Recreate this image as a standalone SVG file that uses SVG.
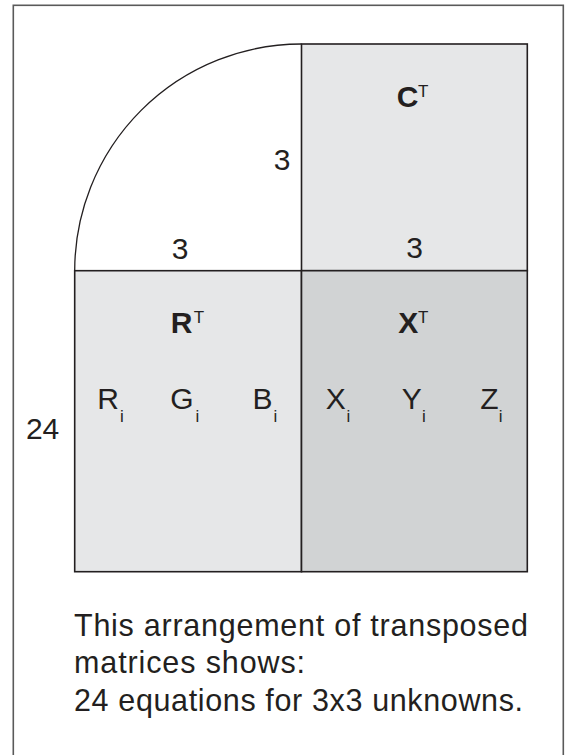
<svg xmlns="http://www.w3.org/2000/svg" width="571" height="755" viewBox="0 0 571 755">
  <style>
    .frame { fill: #ffffff; stroke: #5a5a5a; stroke-width: 1.6; }
    .cell { stroke: #231f20; stroke-width: 1.6; }
    .light { fill: #e6e7e8; }
    .dark { fill: #d1d3d4; }
    .arc { fill: none; stroke: #231f20; stroke-width: 1.3; }
    text { font-family: "Liberation Sans", Arial, Helvetica, sans-serif; fill: #231f20; }
    .lbl { font-size: 30px; }
    .bold { font-size: 30px; font-weight: bold; }
    .sup { font-size: 17px; }
    .sub { font-size: 17px; }
    .cap { font-size: 30.5px; }
  </style>

  <rect class="frame" x="13.3" y="5.3" width="550" height="760"/>

  <g id="quarter-circle">
    <path class="arc" d="M 74.7 270.7 A 226.8 226.7 0 0 1 301.5 44"/>
    <text class="lbl" x="282" y="170" text-anchor="middle">3</text>
    <text class="lbl" x="180" y="259" text-anchor="middle">3</text>
  </g>

  <g id="C-transpose">
    <rect class="cell light" x="301.5" y="44" width="225.8" height="226.7"/>
    <text class="bold" x="407.7" y="106.7" text-anchor="middle">C</text>
    <text class="sup" x="423.3" y="96.7" text-anchor="middle">T</text>
    <text class="lbl" x="414.7" y="258.3" text-anchor="middle">3</text>
  </g>

  <g id="R-transpose">
    <rect class="cell light" x="74.7" y="270.7" width="226.8" height="301"/>
    <text class="bold" x="181.7" y="332.7" text-anchor="middle">R</text>
    <text class="sup" x="199" y="322.7" text-anchor="middle">T</text>
    <text class="lbl" x="108" y="409.3" text-anchor="middle">R</text>
    <text class="sub" x="122" y="421.7" text-anchor="middle">i</text>
    <text class="lbl" x="182" y="409.3" text-anchor="middle">G</text>
    <text class="sub" x="197.5" y="421.7" text-anchor="middle">i</text>
    <text class="lbl" x="262.5" y="409.3" text-anchor="middle">B</text>
    <text class="sub" x="275.5" y="421.7" text-anchor="middle">i</text>
  </g>

  <g id="X-transpose">
    <rect class="cell dark" x="301.5" y="270.7" width="225.8" height="301"/>
    <text class="bold" x="408.3" y="332.7" text-anchor="middle">X</text>
    <text class="sup" x="423.3" y="322.7" text-anchor="middle">T</text>
    <text class="lbl" x="335.7" y="409.3" text-anchor="middle">X</text>
    <text class="sub" x="348.5" y="421.7" text-anchor="middle">i</text>
    <text class="lbl" x="411.8" y="409.3" text-anchor="middle">Y</text>
    <text class="sub" x="424" y="421.7" text-anchor="middle">i</text>
    <text class="lbl" x="489.5" y="409.3" text-anchor="middle">Z</text>
    <text class="sub" x="500.7" y="421.7" text-anchor="middle">i</text>
  </g>

  <g id="rows-label">
    <text class="lbl" x="42.6" y="439.3" text-anchor="middle">24</text>
  </g>

  <g id="caption">
    <text class="cap" x="74" y="635.7" textLength="454" lengthAdjust="spacing">This arrangement of transposed</text>
    <text class="cap" x="74" y="673.3" textLength="231" lengthAdjust="spacing">matrices shows:</text>
    <text class="cap" x="74" y="711" textLength="449" lengthAdjust="spacing">24 equations for 3x3 unknowns.</text>
  </g>
</svg>
